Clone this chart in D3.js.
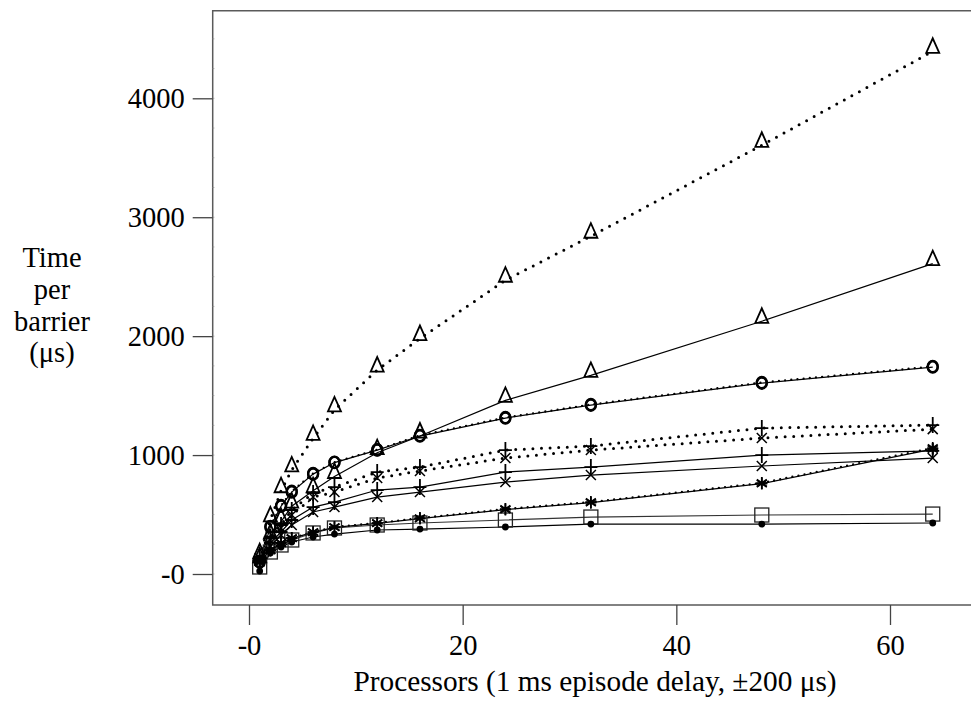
<!DOCTYPE html>
<html>
<head>
<meta charset="utf-8">
<script src="https://cdn.jsdelivr.net/npm/d3@7"></script>
<style>
  html, body { margin: 0; padding: 0; background: #fff; }
  svg { display: block; }
  text { font-family: "Liberation Serif", "DejaVu Serif", serif; fill: #000; }
</style>
</head>
<body>
<div id="chart"></div>
<script>
// ---- data ----
const processors   = [1, 2, 3, 4, 6, 8, 12, 16, 24, 32, 48, 64];
const triDotted    = [145, 455, 700, 875, 1140, 1380, 1715, 1980, 2470, 2840, 3605, 4395];
const triSolid     = [110, 310, 440, 570, 700, 820, 1020, 1160, 1460, 1670, 2125, 2610];
const circSolid    = [100, 395, 570, 689, 840, 937, 1042, 1160, 1311, 1420, 1605, 1740];
const circDotted   = [105, 400, 575, 695, 845, 940, 1045, 1165, 1315, 1425, 1610, 1745];
const plusDotted   = [143, 311, 412, 538, 681, 731, 857, 899, 1042, 1076, 1227, 1252];
const crossDotted  = [134, 286, 387, 496, 647, 689, 807, 866, 975, 1042, 1143, 1218];
const plusSolid    = [118, 261, 353, 454, 563, 605, 706, 731, 857, 899, 1000, 1035];
const crossSolid   = [109, 235, 328, 412, 521, 563, 647, 689, 773, 832, 908, 975];
const starDotted   = [101, 202, 261, 303, 353, 395, 429, 470, 546, 605, 765, 1059];
const starSolid    = [98, 198, 258, 300, 350, 392, 426, 466, 542, 600, 760, 1050];
const squareSolid  = [59, 185, 244, 286, 345, 387, 412, 429, 454, 479, 496, 504];
const dotSolid     = [25, 176, 227, 269, 311, 336, 370, 378, 395, 420, 420, 429];

const xTicks = [0, 20, 40, 60];
const yTicks = [0, 1000, 2000, 3000, 4000];
const xLabel = "Processors (1 ms episode delay, \u00b1200 \u03bcs)";
const yLabelLines = ["Time", "per", "barrier", "(\u03bcs)"];

// series: [values, line style, marker]
const series = [
  [squareSolid, "solid", "square"],
  [dotSolid, "solid", "dot"],
  [starSolid, "solid", "star"],
  [starDotted, "dotfine", "star"],
  [crossSolid, "solid", "cross"],
  [plusSolid, "solid", "plus"],
  [crossDotted, "dotted", "cross"],
  [plusDotted, "dotted", "plus"],
  [circSolid, "solid", "circle"],
  [circDotted, "dotfine", "circle"],
  [triSolid, "solid", "tri"],
  [triDotted, "dotted", "tri"]
];

// ---- layout ----
const W = 971, H = 701;
const frame = { left: 212.7, top: 10.7, bottom: 605, right: 980 };

const svg = d3.select("#chart").append("svg").attr("width", W).attr("height", H);

const x = d3.scaleLinear().domain([0, 60]).range([249, 890]);
const y = d3.scaleLinear().domain([0, 4000]).range([574, 98.3]);

const fmt = d => d === 0 ? "-0" : String(d);

// frame
svg.append("path")
  .attr("d", `M${frame.right},${frame.top}H${frame.left}V${frame.bottom}H${frame.right}`)
  .attr("fill", "none").attr("stroke", "#5a5a5a").attr("stroke-width", 1.5);

// minor y ticks (very faint)
const minorY = d3.range(-250, 4800, 250).filter(v => y(v) > frame.top + 2 && y(v) < frame.bottom - 2);
svg.append("g").selectAll("line").data(minorY).join("line")
  .attr("x1", frame.left).attr("x2", frame.left + 1.6)
  .attr("y1", d => y(d)).attr("y2", d => y(d))
  .attr("stroke", "#999").attr("stroke-width", 1);

// axes
const yAxis = svg.append("g").attr("transform", `translate(${frame.left},0)`)
  .call(d3.axisLeft(y).tickValues(yTicks).tickFormat(fmt).tickSize(20).tickPadding(8));
const xAxis = svg.append("g").attr("transform", `translate(0,${frame.bottom})`)
  .call(d3.axisBottom(x).tickValues(xTicks).tickFormat(fmt).tickSize(20).tickPadding(10));
[yAxis, xAxis].forEach(a => {
  a.select(".domain").remove();
  a.selectAll(".tick line").attr("stroke", "#444").attr("stroke-width", 1.3);
  a.selectAll(".tick text").attr("fill", "#000")
    .style("font-family", "'Liberation Serif', serif").style("font-size", "28.5px");
});

// axis titles
svg.append("text").attr("x", 595).attr("y", 691).attr("text-anchor", "middle")
  .style("font-size", "29.3px").text(xLabel);
const yl = svg.append("text").attr("text-anchor", "middle").style("font-size", "28.5px");
[267, 299, 331, 362].forEach((by, i) => {
  yl.append("tspan").attr("x", 52).attr("y", by).text(yLabelLines[i]);
});

// ---- lines ----
const plot = svg.append("g");
const line = d3.line().x(d => x(d[0])).y(d => y(d[1]));

const styles = {
  solid:   { w: 1.2, dash: null, cap: "butt" },
  dotted:  { w: 3.0, dash: "0 8.6", cap: "round" },
  dotfine: { w: 2.3, dash: "0 6.2", cap: "round" }
};

series.forEach(([vals, st, mk]) => {
  const pts = processors.map((p, i) => [p, vals[i]]);
  const s = styles[st];
  plot.append("path").attr("d", line(pts))
    .attr("fill", "none")
    .attr("stroke", mk === "square" && st === "solid" ? "#333" : "#000")
    .attr("stroke-width", s.w)
    .attr("stroke-dasharray", s.dash)
    .attr("stroke-linecap", s.cap);
});

// ---- markers ----
const mg = svg.append("g");
function marker(g, type, cx, cy) {
  switch (type) {
    case "tri":
      g.append("path").attr("d", `M${cx - 6.5},${cy + 1.5}L${cx + 6.5},${cy + 1.5}L${cx},${cy - 13}Z`)
        .attr("fill", "none").attr("stroke", "#000").attr("stroke-width", 1.8).attr("stroke-linejoin", "miter");
      break;
    case "circle":
      g.append("ellipse").attr("cx", cx).attr("cy", cy).attr("rx", 5).attr("ry", 5.6)
        .attr("fill", "none").attr("stroke", "#000").attr("stroke-width", 2.3);
      break;
    case "plus":
      g.append("path").attr("d", `M${cx},${cy - 8}V${cy + 8}M${cx - 6.5},${cy}H${cx + 6.5}`)
        .attr("stroke", "#000").attr("stroke-width", 1.8);
      break;
    case "cross":
      g.append("path").attr("d", `M${cx - 5},${cy - 5}L${cx + 5},${cy + 5}M${cx - 5},${cy + 5}L${cx + 5},${cy - 5}`)
        .attr("stroke", "#000").attr("stroke-width", 1.5);
      break;
    case "star":
      g.append("path").attr("d",
        `M${cx},${cy - 6}V${cy + 6}M${cx - 5},${cy - 3.5}L${cx + 5},${cy + 3.5}M${cx - 5},${cy + 3.5}L${cx + 5},${cy - 3.5}M${cx - 5.5},${cy}H${cx + 5.5}`)
        .attr("stroke", "#000").attr("stroke-width", 1.7);
      break;
    case "square":
      g.append("rect").attr("x", cx - 7).attr("y", cy - 7).attr("width", 14).attr("height", 14)
        .attr("fill", "none").attr("stroke", "#222").attr("stroke-width", 1.3);
      break;
    case "dot":
      g.append("circle").attr("cx", cx).attr("cy", cy).attr("r", 3.4).attr("fill", "#000");
      break;
  }
}
series.forEach(([vals, st, mk]) => {
  processors.forEach((p, i) => marker(mg, mk, x(p), y(vals[i])));
});
</script>
</body>
</html>
